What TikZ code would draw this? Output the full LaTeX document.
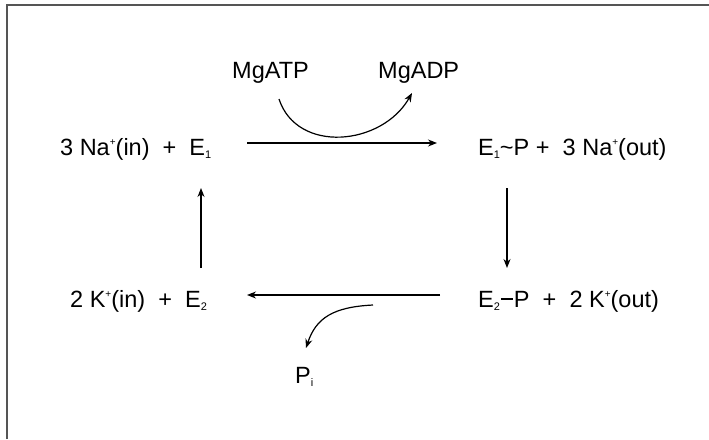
\documentclass[tikz,border=0pt]{standalone}
\usepackage{fontspec}
\setmainfont{Liberation Sans}
\usetikzlibrary{arrows.meta}
\newcommand{\upk}[1]{\raisebox{9.5pt}{\fontsize{10}{10}\selectfont #1}}
\newcommand{\dnk}[1]{\raisebox{-3.5pt}{\fontsize{11}{11}\selectfont #1}}
\definecolor{framegray}{HTML}{555555}
\begin{document}
\begin{tikzpicture}[x=1pt,y=-1pt,
  lbl/.style={anchor=base west, inner sep=0pt, font=\fontsize{23.5}{28}\selectfont},
  arr/.style={line width=1.2pt, -{Stealth[length=9pt,width=7pt]}}]
\useasboundingbox (0,0) rectangle (709,439);
\draw[line width=2pt, color=framegray] (6.5,439) -- (6.5,5) -- (709,5);

\node[lbl] (na)  at (60,155)  {3 Na\upk{+}(in)\ \ +\ \ E\dnk{1}};
\node[lbl] (e1p) at (478,155) {E\dnk{1}\textasciitilde P +\ \ 3 Na\upk{+}(out)};
\node[lbl] (k)   at (70,307)  {2 K\upk{+}(in)\ \ +\ \ E\dnk{2}};
\node[lbl] (e2p) at (478,307) {E\dnk{2}\hspace{1pt}\rule[7.5pt]{12pt}{1.4pt}\hspace{1pt}P\ \ +\ \ 2 K\upk{+}(out)};
\node[lbl] (atp) at (232,78)  {MgATP};
\node[lbl] (adp) at (378,78)  {MgADP};
\node[lbl] (pi)  at (295,383) {P\dnk{i}};

\draw[arr] ([xshift=187pt,yshift=12pt]na.base west) -- ([xshift=-41pt,yshift=12pt]e1p.base west);
\draw[arr] ([xshift=29pt,yshift=-33pt]e1p.base west) -- ([xshift=29pt,yshift=39pt]e2p.base west);
\draw[arr] ([xshift=-38pt,yshift=12pt]e2p.base west) -- ([xshift=177pt,yshift=12pt]k.base west);
\draw[arr] ([xshift=131pt,yshift=39pt]k.base west) -- ([xshift=141pt,yshift=-33pt]na.base west);

\draw[arr] ([xshift=47pt,yshift=-21pt]atp.base west) .. controls +(18,55) and +(-30,53) .. ([xshift=34pt,yshift=-15pt]adp.base west);
\draw[arr] ([xshift=-105pt,yshift=2pt]e2p.base west) .. controls +(-40,2) and +(10,-30) .. ([xshift=11pt,yshift=35pt]pi.base west);
\end{tikzpicture}
\end{document}
